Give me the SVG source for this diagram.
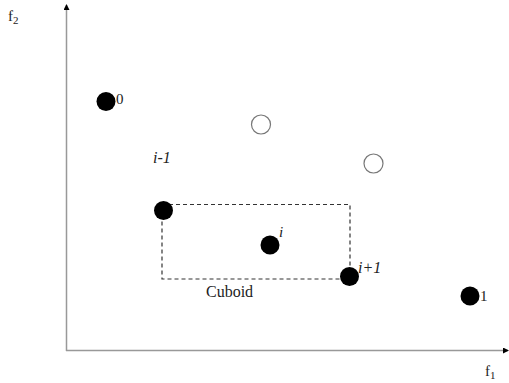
<svg xmlns="http://www.w3.org/2000/svg" width="509" height="383" viewBox="0 0 509 383">
  <style>
    .axis { stroke: #999; stroke-width: 1.5; fill: none; }
    .dot { fill: #000; }
    .hollow { fill: #fff; stroke: #777; stroke-width: 1.2; }
    .lbl { font-family: "Liberation Serif", "Times New Roman", serif; font-size: 15px; fill: #222; }
    .big { font-size: 16px; }
    .it { font-style: italic; }
    .box { fill: none; stroke: #333; stroke-width: 1.2; stroke-dasharray: 4 3; }
  </style>
  <defs>
    <marker id="tip" markerWidth="6" markerHeight="6" refX="5" refY="3" orient="auto" markerUnits="userSpaceOnUse">
      <path d="M0,0 L6,3 L0,6 z" fill="#000"/>
    </marker>
  </defs>
  <rect width="509" height="383" fill="#fff"/>

  <!-- axes and the dashed cuboid -->
  <g id="connectors">
    <line class="axis" x1="66.5" y1="351" x2="66.5" y2="5" marker-end="url(#tip)"/>
    <line class="axis" x1="66" y1="350.5" x2="508" y2="350.5" marker-end="url(#tip)"/>
    <rect class="box" x="162" y="204.5" width="188" height="74.5"/>
  </g>

  <text class="lbl" x="8" y="21">f<tspan font-size="11" dy="3">2</tspan></text>
  <text class="lbl" x="485" y="376">f<tspan font-size="11" dy="3">1</tspan></text>
  <text class="lbl big" x="206" y="297">Cuboid</text>

  <g id="n0"><circle class="dot" cx="106" cy="101.5" r="9.5"/><text class="lbl" x="116" y="104">0</text></g>
  <g id="h1"><circle class="hollow" cx="261" cy="124.5" r="9.5"/></g>
  <g id="h2"><circle class="hollow" cx="373.5" cy="163.5" r="9.5"/></g>
  <g id="nim1"><circle class="dot" cx="163.5" cy="210.5" r="9.5"/><text class="lbl big it" x="153" y="163">i-1</text></g>
  <g id="ni"><circle class="dot" cx="270" cy="245" r="9.5"/><text class="lbl it" x="279" y="237">i</text></g>
  <g id="nip1"><circle class="dot" cx="349.5" cy="276.5" r="9.5"/><text class="lbl big it" x="358" y="273">i+1</text></g>
  <g id="n1"><circle class="dot" cx="470" cy="296" r="9.5"/><text class="lbl" x="480" y="301">1</text></g>
</svg>
